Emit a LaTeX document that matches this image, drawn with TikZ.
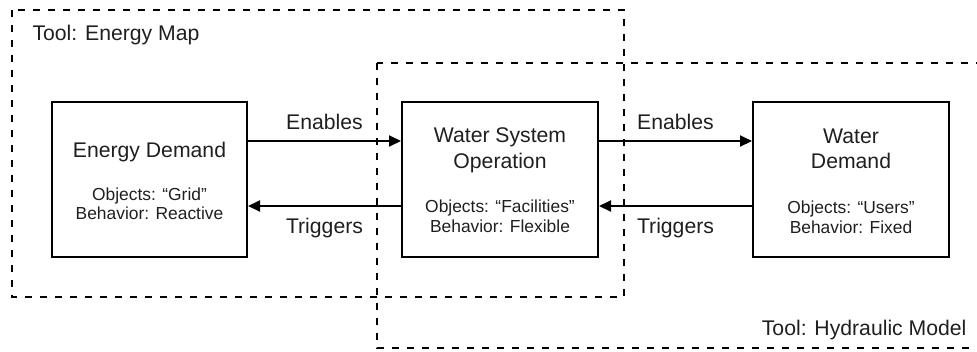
\documentclass[tikz,border=0pt]{standalone}
\usepackage{fontspec}
\setmainfont{Liberation Sans}
\usetikzlibrary{arrows.meta}
\begin{document}
\begin{tikzpicture}[x=1pt,y=-1pt,
  block/.style={draw=black, line width=2pt, minimum height=155pt, inner sep=0pt},
  group/.style={draw=black, line width=1.8pt, dash pattern=on 7pt off 8pt},
  title/.style={anchor=base, font=\fontsize{21.2}{25}\selectfont, text=black!88},
  detail/.style={anchor=base, font=\fontsize{17.4}{20}\selectfont, text=black!88},
  flow/.style={line width=2pt, -{Triangle[length=12pt,width=11pt]}},
  lbl/.style={anchor=base, font=\fontsize{21.2}{25}\selectfont, text=black!88}]
  \useasboundingbox (0,0) rectangle (977,351);
  \clip (0,0) rectangle (977,351);

  % tool scopes
  \draw[group] (12,10) rectangle (624,297);
  \draw[group] (377,63) rectangle (995,348);
  \node[lbl, anchor=base west] (tool1) at (29,40) {Tool: Energy Map};
  \node[lbl, anchor=base east] (tool2) at (970,335) {Tool: Hydraulic Model};

  % blocks
  \node[block, minimum width=195pt] (energy) at (149.5,179.5) {};
  \node[block, minimum width=196pt] (water) at (500,179.5) {};
  \node[block, minimum width=196pt] (demand) at (851,179.5) {};

  % block texts
  \node[title] (energyT) at (149.5,157) {Energy Demand};
  \node[detail] (energyO) at (149.5,200) {Objects: “Grid”};
  \node[detail] (energyB) at (149.5,219.5) {Behavior: Reactive};

  \node[title] (waterT1) at (500,142.5) {Water System};
  \node[title] (waterT2) at (500,168) {Operation};
  \node[detail] (waterO) at (500,212.5) {Objects: “Facilities”};
  \node[detail] (waterB) at (500,232.5) {Behavior: Flexible};

  \node[title] (demandT1) at (851,143) {Water};
  \node[title] (demandT2) at (851,168) {Demand};
  \node[detail] (demandO) at (851,213) {Objects: “Users”};
  \node[detail] (demandB) at (851,233) {Behavior: Fixed};

  % flows
  \draw[flow] ([yshift=38.5pt]energy.east) -- ([yshift=38.5pt]water.west);
  \draw[flow] ([yshift=-26.5pt]water.west) -- ([yshift=-26.5pt]energy.east);
  \draw[flow] ([yshift=38.5pt]water.east) -- ([yshift=38.5pt]demand.west);
  \draw[flow] ([yshift=-26.5pt]demand.west) -- ([yshift=-26.5pt]water.east);

  \node[lbl] (en1) at (324.5,129) {Enables};
  \node[lbl] (tr1) at (324.5,233) {Triggers};
  \node[lbl] (en2) at (675.5,129) {Enables};
  \node[lbl] (tr2) at (675.5,233) {Triggers};
\end{tikzpicture}
\end{document}
